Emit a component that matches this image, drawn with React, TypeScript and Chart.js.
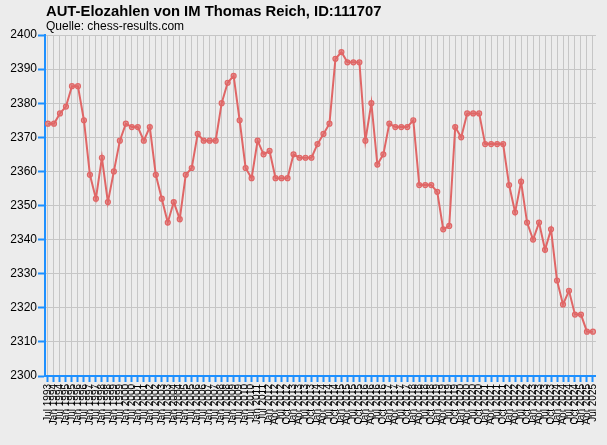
import React, { useEffect, useRef } from "react";
import { Chart, registerables } from "chart.js";

Chart.register(...registerables);

const TITLE = "AUT-Elozahlen von IM Thomas Reich, ID:111707";
const SUBTITLE = "Quelle: chess-results.com";

const periodsHalfYear = [
  "Jul 1993", "Jan 1994", "Jul 1994", "Jan 1995", "Jul 1995", "Jan 1996", "Jul 1996",
  "Jan 1997", "Jul 1997", "Jan 1998", "Jul 1998", "Jan 1999", "Jul 1999", "Jan 2000",
  "Jul 2000", "Jan 2001", "Jul 2001", "Jan 2002", "Jul 2002", "Jan 2003", "Jul 2003",
  "Jan 2004", "Jul 2004", "Jan 2005", "Jul 2005", "Jan 2006", "Jul 2006", "Jan 2007",
  "Jul 2007", "Jan 2008", "Jul 2008", "Jan 2009", "Jul 2009", "Jan 2010", "Jul 2010",
  "Jan 2011", "Jul 2011", "Jan 2012",
];

const periodsQuarterly = [
  "Apr 2012", "Jul 2012", "Oct 2012",
  "Jan 2013", "Apr 2013", "Jul 2013", "Oct 2013",
  "Jan 2014", "Apr 2014", "Jul 2014", "Oct 2014",
  "Jan 2015", "Apr 2015", "Jul 2015", "Oct 2015",
  "Jan 2016", "Apr 2016", "Jul 2016", "Oct 2016",
  "Jan 2017", "Apr 2017", "Jul 2017", "Oct 2017",
  "Jan 2018", "Apr 2018", "Jul 2018", "Oct 2018",
  "Jan 2019", "Apr 2019", "Jul 2019", "Oct 2019",
  "Jan 2020", "Apr 2020", "Jul 2020", "Oct 2020",
  "Jan 2021", "Apr 2021", "Jul 2021", "Oct 2021",
  "Jan 2022", "Apr 2022", "Jul 2022", "Oct 2022",
  "Jan 2023", "Apr 2023", "Jul 2023", "Oct 2023",
  "Jan 2024", "Apr 2024", "Jul 2024", "Oct 2024",
  "Jan 2025", "Apr 2025", "Jul 2025",
];

const eloHalfYear = [
  2374, 2374, 2377, 2379, 2385, 2385, 2375, 2359, 2352, 2364,
  2351, 2360, 2369, 2374, 2373, 2373, 2369, 2373, 2359, 2352,
  2345, 2351, 2346, 2359, 2361, 2371, 2369, 2369, 2369, 2380,
  2386, 2388, 2375, 2361, 2358, 2369, 2365, 2366,
];

const eloQuarterly = [
  2358, 2358, 2358, 2365, 2364, 2364, 2364, 2368, 2371, 2374,
  2393, 2395, 2392, 2392, 2392, 2369, 2380, 2362, 2365, 2374,
  2373, 2373, 2373, 2375, 2356, 2356, 2356, 2354, 2343, 2344,
  2373, 2370, 2377, 2377, 2377, 2368, 2368, 2368, 2368, 2356,
  2348, 2357, 2345, 2340, 2345, 2337, 2343, 2328, 2321, 2325,
  2318, 2318, 2313, 2313,
];

const Y_MIN = 2300;
const Y_MAX = 2400;
const Y_STEP = 10;

const BLUE = "#1e90ff";
const LINE = "#e06666";
const GRID = "#c6c6c6";
const BG = "#ececec";

export default function App() {
  const ref = useRef<HTMLCanvasElement>(null);

  useEffect(() => {
    const canvas = ref.current;
    if (!canvas) return;

    const bgPlugin = {
      id: "bgFill",
      beforeDraw(chart: any) {
        const { ctx, width, height } = chart;
        ctx.save();
        ctx.fillStyle = BG;
        ctx.fillRect(0, 0, width, height);
        ctx.restore();
      },
    };

    const titlePlugin = {
      id: "titleText",
      afterDraw(chart: any) {
        const { ctx } = chart;
        const x = chart.chartArea.left + 1;
        ctx.save();
        ctx.fillStyle = "#000";
        ctx.textAlign = "left";
        ctx.textBaseline = "middle";
        ctx.font = 'bold 14.8px "Liberation Sans", Arial, sans-serif';
        ctx.fillText(TITLE, x, 12);
        ctx.font = '12px "Liberation Sans", Arial, sans-serif';
        ctx.fillText(SUBTITLE, x, 27);
        ctx.restore();
      },
    };

    const chart = new Chart(canvas, {
      type: "line",
      data: {
        labels: [...periodsHalfYear, ...periodsQuarterly],
        datasets: [
          {
            data: [...eloHalfYear, ...eloQuarterly],
            borderColor: LINE,
            borderWidth: 2,
            pointRadius: 2.5,
            pointBorderWidth: 1.2,
            pointBackgroundColor: "rgba(224,102,102,0.6)",
            pointBorderColor: LINE,
            tension: 0,
            fill: false,
          },
        ],
      },
      options: {
        animation: false,
        responsive: false,
        devicePixelRatio: 1,
        layout: { padding: { top: 35, right: 10, left: 0, bottom: 0 } },
        plugins: {
          legend: { display: false },
          tooltip: { enabled: false },
          title: { display: false },
        },
        scales: {
          x: {
            type: "category",
            offset: true,
            grid: {
              offset: false,
              color: GRID,
              lineWidth: 1,
              drawTicks: true,
              tickLength: 6,
              tickColor: BLUE,
              tickWidth: 2,
            },
            border: { color: BLUE, width: 2 },
            ticks: {
              autoSkip: false,
              minRotation: 90,
              maxRotation: 90,
              padding: 2,
              color: "#000",
              font: { family: '"Liberation Sans", Arial, sans-serif', size: 10 },
            },
            afterFit(scale: any) {
              scale.height = 69;
            },
          },
          y: {
            min: Y_MIN,
            max: Y_MAX,
            ticks: {
              stepSize: Y_STEP,
              color: "#000",
              padding: 1,
              font: { family: '"Liberation Sans", Arial, sans-serif', size: 12 },
              callback: (v: any) => String(v),
            },
            grid: {
              color: GRID,
              lineWidth: 1,
              tickLength: 7,
              tickColor: BLUE,
              tickWidth: 2,
            },
            border: { color: BLUE, width: 2 },
            afterFit(scale: any) {
              scale.width = 45;
            },
          },
        },
      },
      plugins: [bgPlugin, titlePlugin],
    } as any);

    return () => chart.destroy();
  }, []);

  return (
    <div style={{ position: "absolute", left: 0, top: 0, width: 607, height: 445 }}>
      <canvas ref={ref} width={607} height={445} style={{ display: "block" }} />
    </div>
  );
}
